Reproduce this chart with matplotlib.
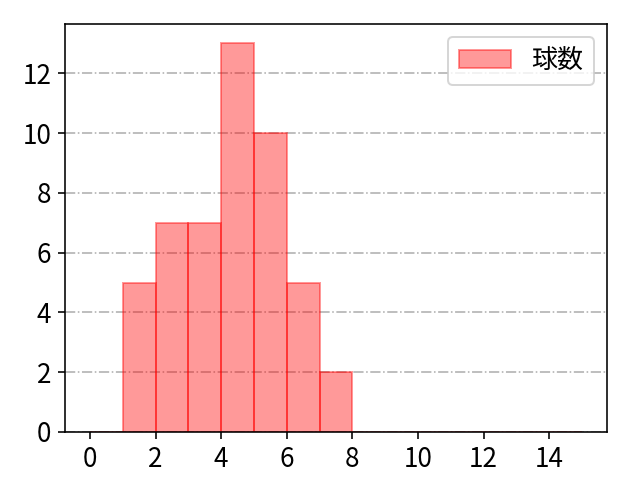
import matplotlib
matplotlib.use("Agg")
import matplotlib.pyplot as plt
import numpy as np

plt.rcParams["font.family"] = ["Noto Sans CJK JP", "DejaVu Sans"]
plt.rcParams["font.size"] = 13

# pitch count per bin (bins of width 1 from 0 to 15)
bin_edges = list(range(0, 16))
bin_starts = [1, 2, 3, 4, 5, 6, 7]
counts = [5, 7, 7, 13, 10, 5, 2]
label = "球数"

fig, ax = plt.subplots(figsize=(6.4 / 1.44, 4.8 / 1.44), dpi=144)
ax.hist(np.array(bin_starts) + 0.5, bins=bin_edges, weights=counts,
        color="red", alpha=0.4, edgecolor="red", label=label)
ax.set_xlim(-0.75, 15.75)
ax.set_xticks(range(0, 15, 2))
ax.grid(axis="y", linestyle="-.", color="#b0b0b0")
ax.set_axisbelow(True)
ax.legend(loc="upper right")
fig.subplots_adjust(left=0.102, right=0.948, top=0.95, bottom=0.1)
fig.savefig("out.png")
